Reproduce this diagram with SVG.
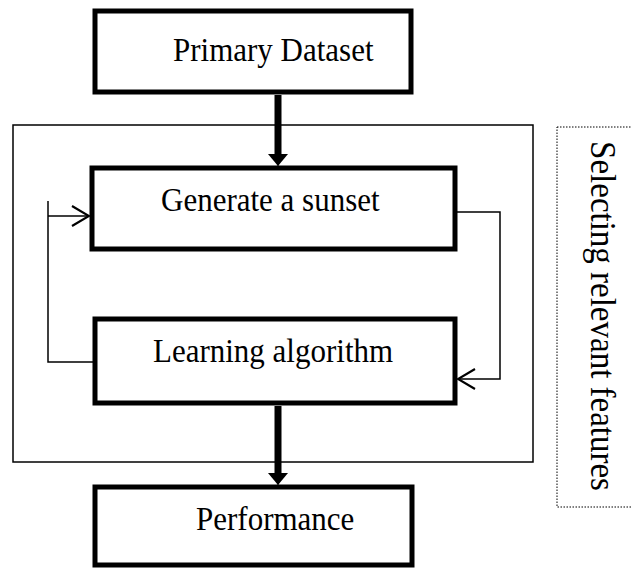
<svg xmlns="http://www.w3.org/2000/svg" width="631" height="569" viewBox="0 0 631 569">
<style>
.box{fill:#fff;stroke:#000;stroke-width:5}
.lbl{font-family:"Liberation Serif","Times New Roman",serif;font-size:31px;fill:#000}
.thin{fill:none;stroke:#000;stroke-width:1.5}
.thick{fill:none;stroke:#000;stroke-width:7}
</style>
<defs>
<marker id="open" markerWidth="20" markerHeight="24" refX="18" refY="11" orient="auto" markerUnits="userSpaceOnUse">
<path d="M1,1 L18,11 L1,21" fill="none" stroke="#000" stroke-width="2.2"/>
</marker>
<marker id="solid" markerWidth="14" markerHeight="22" refX="12" refY="10" orient="auto" markerUnits="userSpaceOnUse">
<path d="M0,0 L12,10 L0,20 Z" fill="#000"/>
</marker>
</defs>
<g id="outer-frame"><rect x="13" y="125" width="520" height="337" class="thin"/></g>
<g id="selecting">
<rect x="557" y="127" width="90" height="380" fill="none" stroke="#000" stroke-width="1" stroke-dasharray="1.5,1.5"/>
<text class="lbl" style="font-size:33px" transform="translate(591,316) rotate(90) scale(1,1.1)" text-anchor="middle">Selecting relevant features</text>
</g>
<g id="connectors">
<path d="M278,95 V158" class="thick"/>
<path d="M278,155 V166" stroke="#000" stroke-width="1" marker-end="url(#solid)"/>
<path d="M278,406 V475" class="thick"/>
<path d="M278,472 V485" stroke="#000" stroke-width="1" marker-end="url(#solid)"/>
<path d="M93,362 H48 V201" class="thin"/>
<path d="M48,216 H89" class="thin" stroke-width="2" marker-end="url(#open)"/>
<path d="M456,212 H500 V379 H458" class="thin" marker-end="url(#open)"/>
</g>
<g id="primary"><rect x="95" y="11" width="316" height="81" class="box"/><text class="lbl" transform="translate(173,61) scale(1,1.1)">Primary Dataset</text></g>
<g id="generate"><rect x="92" y="168" width="363" height="81" class="box"/><text class="lbl" transform="translate(161,211) scale(1,1.1)">Generate a sunset</text></g>
<g id="learning"><rect x="95" y="319" width="360" height="84" class="box"/><text class="lbl" transform="translate(153,362) scale(1,1.1)">Learning algorithm</text></g>
<g id="performance"><rect x="95" y="487" width="317" height="78" class="box"/><text class="lbl" transform="translate(196,530) scale(1,1.1)">Performance</text></g>
</svg>
